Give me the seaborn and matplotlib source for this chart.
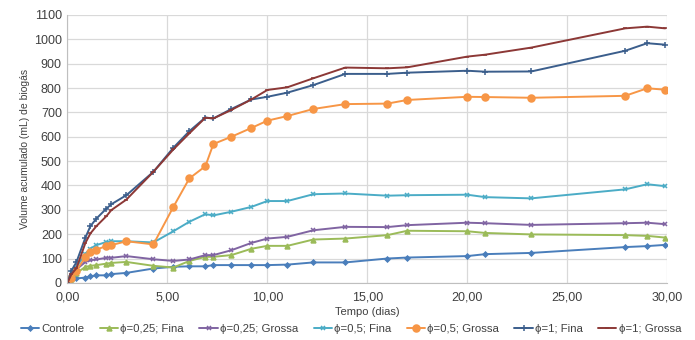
import pandas as pd
import matplotlib.pyplot as plt
import matplotlib.ticker as mticker
import seaborn as sns

# dados
tempo = [0, 0.2, 0.45, 0.9, 1.15, 1.45, 1.95, 2.2, 2.95, 4.3, 5.3, 6.1, 6.9, 7.3,
         8.2, 9.2, 10.0, 11.0, 12.3, 13.9, 16.0, 17.0, 20.0, 20.9, 23.2, 27.9, 29.0, 29.9]

controle = [0, 10, 18, 22, 27, 31, 31, 36, 41, 59, 66, 68, 68, 73,
            73, 73, 73, 75, 84, 84, 100, 104, 110, 118, 123, 147, 151, 156]
fina_025 = [0, 15, 40, 66, 70, 73, 79, 82, 86, 70, 63, 90, 107, 107,
            114, 140, 152, 152, 178, 182, 196, 214, 212, 205, 199, 196, 193, 186]
grossa_025 = [0, 25, 55, 86, 93, 96, 103, 103, 110, 97, 90, 96, 114, 114,
              134, 164, 182, 189, 216, 230, 229, 237, 247, 245, 238, 245, 247, 241]
fina_05 = [0, 20, 65, 120, 141, 155, 168, 171, 171, 166, 212, 251, 282, 277,
           292, 312, 336, 336, 364, 367, 358, 360, 362, 352, 347, 384, 405, 397]
grossa_05 = [0, 20, 50, 107, 125, 137, 151, 155, 171, 158, 312, 429, 479, 570,
             600, 636, 666, 685, 714, 734, 736, 751, 764, 763, 760, 768, 799, 793]
fina_1 = [0, 50, 85, 186, 233, 264, 305, 323, 360, 456, 555, 623, 679, 675,
          714, 753, 764, 781, 812, 858, 858, 863, 871, 867, 868, 953, 984, 978]
grossa_1 = [0, 35, 60, 164, 203, 233, 274, 299, 342, 456, 548, 614, 678, 675,
            710, 753, 792, 803, 840, 884, 881, 885, 929, 937, 966, 1045, 1052, 1045]

nomes = ['Controle', 'ϕ=0,25; Fina', 'ϕ=0,25; Grossa', 'ϕ=0,5; Fina',
         'ϕ=0,5; Grossa', 'ϕ=1; Fina', 'ϕ=1; Grossa']
series = [controle, fina_025, grossa_025, fina_05, grossa_05, fina_1, grossa_1]
cores = ['#4A7EBB', '#9BBB59', '#8064A2', '#4BACC6', '#F79646', '#3B5E8C', '#8C3836']
marcadores = ['D', '^', 'x', 'x', 'o', '+', '_']
tamanhos = [2.5, 3.5, 3.5, 3.5, 5, 4.5, 3.5]

df = pd.DataFrame({'Tempo': tempo * len(nomes),
                   'Volume': sum(series, []),
                   'Serie': [n for n in nomes for _ in tempo]})

sns.set_style('white')
plt.rcParams['font.family'] = ['Liberation Sans', 'DejaVu Sans']

fig = plt.figure(figsize=(6.95, 3.4), dpi=100)
ax = fig.add_axes([0.097, 0.168, 0.863, 0.788])

for nome, cor, mk, ms in zip(nomes, cores, marcadores, tamanhos):
    sns.lineplot(data=df[df['Serie'] == nome], x='Tempo', y='Volume', ax=ax,
                 color=cor, marker=mk, markersize=ms, markeredgecolor=cor,
                 markeredgewidth=1.1, linewidth=1.4, label=nome, sort=False)

ax.set_xlim(0, 30)
ax.set_ylim(0, 1100)
ax.set_xticks(range(0, 31, 5))
ax.set_yticks(range(0, 1101, 100))
ax.xaxis.set_major_formatter(mticker.FuncFormatter(lambda v, p: f'{v:.2f}'.replace('.', ',')))
ax.grid(True, color='#D9D9D9', linewidth=0.9)
ax.set_axisbelow(True)
for s in ['top', 'right']:
    ax.spines[s].set_visible(False)
for s in ['left', 'bottom']:
    ax.spines[s].set_color('#BFBFBF')
ax.tick_params(axis='both', labelsize=9, colors='#404040', length=0)
ax.tick_params(axis='x', pad=6)
ax.tick_params(axis='y', pad=4)
ax.set_xlabel('Tempo (dias)', fontsize=8, color='#404040', labelpad=3)
ax.set_ylabel('Volume acumulado (mL) de biogás', fontsize=7.5, color='#404040', labelpad=3)

ax.legend(loc='center', bbox_to_anchor=(0.473, -0.172), ncol=7, frameon=False,
          fontsize=8.2, handlelength=1.6, handletextpad=0.2, columnspacing=1.35,
          labelcolor='#404040')

plt.savefig('out.png', dpi=100)
